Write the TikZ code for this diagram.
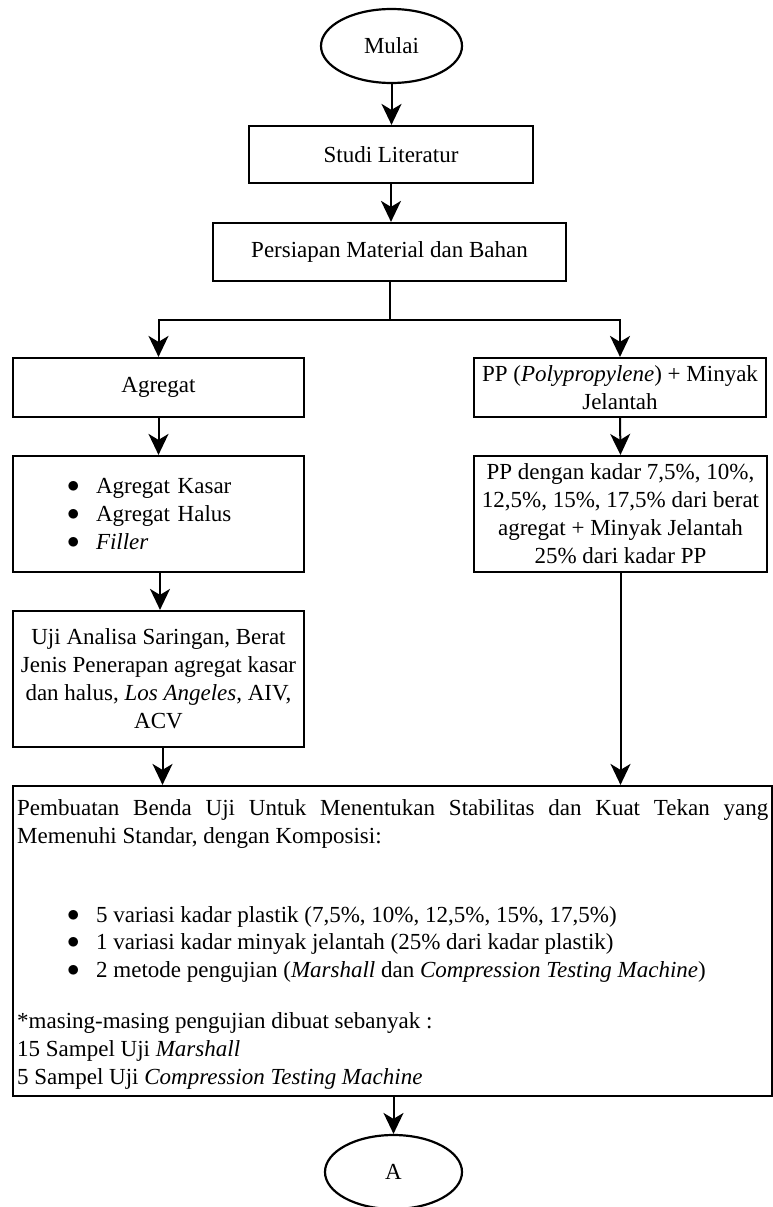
\documentclass[tikz,border=0pt]{standalone}
\usepackage{fontspec}
\setmainfont{Liberation Serif}
\usetikzlibrary{shapes.geometric,arrows.meta}
\newcommand\myfs{\fontsize{23}{28}\selectfont}
\newcommand\mybul{\makebox[29pt][l]{\raisebox{0.5pt}{$\bullet$}}}
\begin{document}
\begin{tikzpicture}[x=1pt,y=-1pt,
 box/.style={draw, line width=2.2pt, inner sep=0pt, align=center, font=\myfs},
 oval/.style={draw, ellipse, line width=2.2pt, inner sep=0pt, font=\myfs},
 arr/.style={line width=2pt, -{Stealth[length=21pt,width=20pt,inset=6pt]}},
 plain/.style={line width=2pt},
 txt/.style={anchor=base west, inner sep=0pt, font=\myfs}]
\useasboundingbox (0,0) rectangle (773,1207);

\node[oval, minimum width=141pt, minimum height=74pt] (mulai) at (391.5,46) {Mulai};
\node[box, minimum width=284pt, minimum height=57pt] (studi) at (391,154.5) {Studi Literatur};
\node[box, minimum width=353pt, minimum height=58pt] (persiapan) at (389.5,252) {Persiapan Material dan Bahan};
\node[box, minimum width=291pt, minimum height=59pt] (agregat) at (158.5,387.5) {Agregat};
\node[box, minimum width=292pt, minimum height=59pt] (pp) at (620,387.5) {PP (\textit{Polypropylene}) + Minyak\\Jelantah};
\node[box, minimum width=291pt, text width=291pt, minimum height=116pt, align=left] (bul) at (158.5,514)
 {\hspace*{54pt}\mybul Agregat Kasar\\
  \hspace*{54pt}\mybul Agregat Halus\\
  \hspace*{54pt}\mybul\textit{Filler}};
\node[box, minimum width=293pt, minimum height=116pt] (ppk) at (620.5,514)
 {PP dengan kadar 7,5\%, 10\%,\\12,5\%, 15\%, 17,5\% dari berat\\agregat + Minyak Jelantah\\25\% dari kadar PP};
\node[box, minimum width=291pt, minimum height=136pt] (uji) at (158.5,679)
 {Uji Analisa Saringan, Berat\\Jenis Penerapan agregat kasar\\dan halus, \textit{Los Angeles}, AIV,\\ACV};
\node[box, minimum width=759pt, minimum height=310pt] (big) at (392.5,941) {};
\node[oval, minimum width=137pt, minimum height=74pt] (A) at (393.5,1172) {A};

\node[txt] (t1) at (17,815) {\makebox[751pt][s]{Pembuatan Benda Uji Untuk Menentukan Stabilitas dan Kuat Tekan yang}};
\node[txt] (t2) at (17,843) {Memenuhi Standar, dengan Komposisi:};
\node[txt] (b1) at (67,922) {\mybul 5 variasi kadar plastik (7,5\%, 10\%, 12,5\%, 15\%, 17,5\%)};
\node[txt] (b2) at (67,949) {\mybul 1 variasi kadar minyak jelantah (25\% dari kadar plastik)};
\node[txt] (b3) at (67,977) {\mybul 2 metode pengujian (\textit{Marshall} dan \textit{Compression Testing Machine})};
\node[txt] (n1) at (17,1028) {*masing-masing pengujian dibuat sebanyak :};
\node[txt] (n2) at (17,1056) {15 Sampel Uji \textit{Marshall}};
\node[txt] (n3) at (17,1084) {5 Sampel Uji \textit{Compression Testing Machine}};

\draw[arr] (mulai.south) -- (mulai.south |- studi.north);
\draw[arr] (studi.south) -- (studi.south |- persiapan.north);
\coordinate (split) at (389.5,320);
\draw[plain] (persiapan.south) -- (split);
\draw[arr] (split) -| (agregat.north);
\draw[arr] (split) -| (pp.north);
\draw[arr] (agregat.south) -- (bul.north);
\draw[arr] ([xshift=1.5pt]bul.south) -- ([xshift=1.5pt]uji.north);
\draw[arr] ([xshift=4pt]uji.south) -- ([xshift=4pt]uji.south |- big.north);
\draw[arr] (pp.south) -- (ppk.north);
\draw[arr] (ppk.south) -- (ppk.south |- big.north);
\draw[arr] (A.north |- big.south) -- (A.north);
\end{tikzpicture}
\end{document}
